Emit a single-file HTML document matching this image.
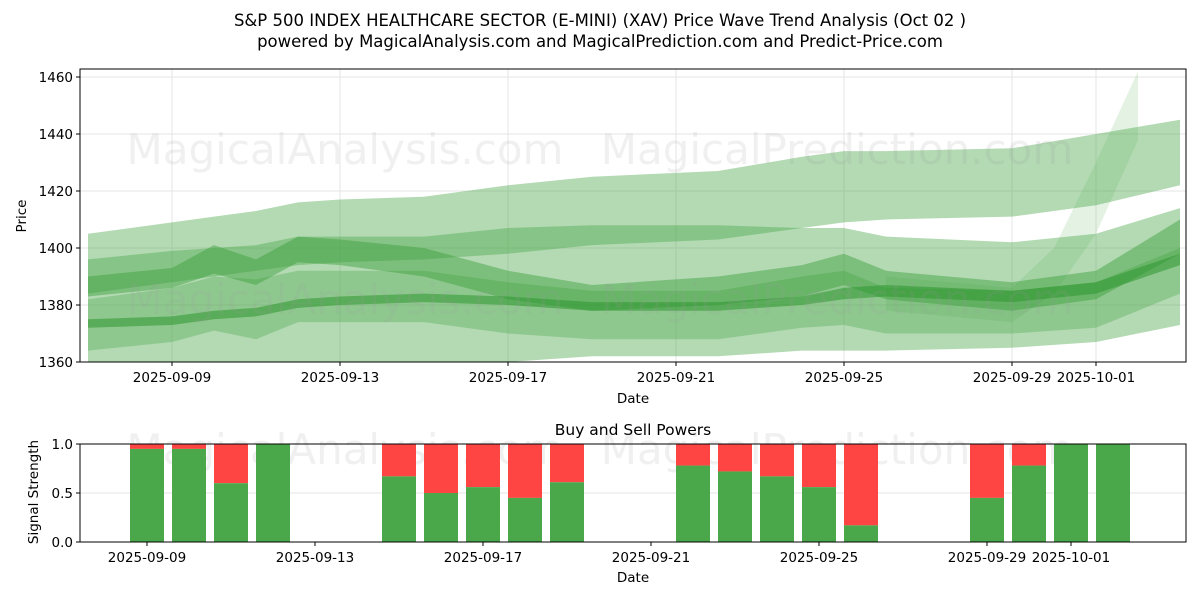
<!DOCTYPE html>
<html><head><meta charset="utf-8"><style>
body{margin:0;background:#fff;font-family:"Liberation Sans","DejaVu Sans",sans-serif;}
svg text{font-family:"DejaVu Sans","Liberation Sans",sans-serif;}
</style></head><body>
<svg id="c" width="1200" height="600" viewBox="0 0 1200 600" xmlns="http://www.w3.org/2000/svg">
<defs><clipPath id="clipTop"><rect x="80" y="69" width="1106" height="293"/></clipPath></defs>
<text x="600" y="26" text-anchor="middle" font-size="16.5">S&amp;P 500 INDEX HEALTHCARE SECTOR (E-MINI) (XAV) Price Wave Trend Analysis (Oct 02 )</text>
<text x="600" y="47" text-anchor="middle" font-size="16.5">powered by MagicalAnalysis.com and MagicalPrediction.com and Predict-Price.com</text>
<g id="topPanel"></g>
<g id="botPanel"></g>
</svg>
<script>
const bandDays=[-2,0,1,2,3,4,6,8,10,13,15,16,17,20,22,24];
const band1Upper=[1405,1409,1411,1413,1416,1417,1418,1422,1425,1427,1432,1434,1434,1435,1440,1445];
const band1Lower=[1384,1388,1390,1392,1394,1395,1396,1398,1401,1403,1407,1409,1410,1411,1415,1422];
const band2Upper=[1396,1399,1400,1401,1404,1404,1404,1407,1408,1408,1407,1407,1404,1402,1405,1414];
const band2Lower=[1360,1358,1358,1358,1358,1358,1358,1360,1362,1362,1364,1364,1364,1365,1367,1373];
const band3Upper=[1390,1393,1401,1396,1404,1403,1400,1392,1387,1390,1394,1398,1392,1388,1392,1410];
const band3Lower=[1383,1386,1391,1387,1395,1394,1390,1382,1378,1380,1383,1387,1382,1378,1382,1398];
const band4Upper=[1382,1386,1390,1389,1392,1392,1392,1388,1385,1385,1390,1392,1386,1385,1388,1400];
const band4Lower=[1364,1367,1371,1368,1374,1374,1374,1370,1368,1368,1372,1373,1370,1370,1372,1384];
const band5Upper=[1375,1376,1378,1379,1382,1383,1384,1383,1381,1381,1383,1386,1387,1385,1388,1398];
const band5Lower=[1372,1373,1375,1376,1379,1380,1381,1380,1378,1378,1380,1382,1383,1381,1384,1394];
const spikeDays=[17,20,21,22,23];
const spikeUpper=[1390,1386,1400,1430,1462];
const spikeLower=[1378,1374,1384,1405,1438];
const priceTicks=[1360,1380,1400,1420,1440,1460];
const dateTickDays=[0,4,8,12,16,20,22];
const dateTickLabels=["2025-09-09","2025-09-13","2025-09-17","2025-09-21","2025-09-25","2025-09-29","2025-10-01"];
const signalDays=[0,1,2,3,6,7,8,9,10,13,14,15,16,17,20,21,22,23];
const buyPower=[0.95,0.95,0.6,1.0,0.67,0.5,0.56,0.45,0.61,0.78,0.72,0.67,0.56,0.17,0.45,0.78,1.0,1.0];
const signalTicks=[0,0.5,1.0];

const NS="http://www.w3.org/2000/svg";
function mk(p,t,a){const e=document.createElementNS(NS,t);for(const k in a)e.setAttribute(k,a[k]);p.appendChild(e);return e;}
const topG=document.getElementById('topPanel'),botG=document.getElementById('botPanel');
const L=80,R=1186,T=69,B=362;
const FS=13.5;
const xT=d=>172+42*d, yT=v=>362-(v-1360)*2.85;
const xB=d=>147+42*d, bT=444,bB=542, yB=v=>bB-v*(bB-bT);
priceTicks.forEach(v=>{const l=mk(topG,'line',{x1:L,x2:R,y1:yT(v),y2:yT(v),stroke:'#e6e6e6'});

});
dateTickDays.forEach(d=>{const l=mk(topG,'line',{x1:xT(d),x2:xT(d),y1:T,y2:B,stroke:'#e6e6e6'});

});
const bandG=mk(topG,'g',{'clip-path':'url(#clipTop)'});


function band(days,u,lo,fill,op,name){
 let pts=days.map((d,i)=>xT(d)+','+yT(u[i]));
 for(let i=days.length-1;i>=0;i--)pts.push(xT(days[i])+','+yT(lo[i]));
 const p=mk(bandG,'polygon',{points:pts.join(' '),fill:fill,'fill-opacity':op});
 
 
}
band(bandDays,band1Upper,band1Lower,'#4aa84a',0.42,'wave-band-upper');
band(bandDays,band2Upper,band2Lower,'#4aa84a',0.42,'wave-band-wide');
band(spikeDays,spikeUpper,spikeLower,'#4aa84a',0.15,'wave-band-spike');
band(bandDays,band4Upper,band4Lower,'#3a9e3a',0.3,'wave-band-lower');
band(bandDays,band3Upper,band3Lower,'#3a9e3a',0.45,'wave-band-mid');
band(bandDays,band5Upper,band5Lower,'#2e962e',0.55,'wave-band-center');
[[345,150,'MagicalAnalysis.com'],[837,150,'MagicalPrediction.com'],[345,300,'MagicalAnalysis.com'],[837,300,'MagicalPrediction.com']].forEach(w=>{
 const t=mk(topG,'text',{x:w[0],y:w[1]+14,'text-anchor':'middle','font-size':42,fill:'#999','fill-opacity':0.15});t.textContent=w[2];
 
 });
const fr=mk(topG,'rect',{x:L,y:T,width:R-L,height:B-T,fill:'none',stroke:'#000'});


priceTicks.forEach(v=>{mk(topG,'line',{x1:L-4,x2:L,y1:yT(v),y2:yT(v),stroke:'#000'});
 const t=mk(topG,'text',{x:L-7,y:yT(v)+5,'text-anchor':'end','font-size':FS});t.textContent=v;
 
 });
dateTickDays.forEach((d,i)=>{mk(topG,'line',{x1:xT(d),x2:xT(d),y1:B,y2:B+4,stroke:'#000'});
 const t=mk(topG,'text',{x:xT(d),y:B+20,'text-anchor':'middle','font-size':FS});t.textContent=dateTickLabels[i];
 
 });
let tx=mk(topG,'text',{x:633,y:403,'text-anchor':'middle','font-size':FS});tx.textContent='Date';


tx=mk(topG,'text',{x:26,y:216,'text-anchor':'middle','font-size':FS,transform:'rotate(-90 26 216)'});tx.textContent='Price';


tx=mk(botG,'text',{x:633,y:435,'text-anchor':'middle','font-size':15.5});tx.textContent='Buy and Sell Powers';


const g5=mk(botG,'line',{x1:L,x2:R,y1:yB(0.5),y2:yB(0.5),stroke:'#e6e6e6'});


[[345,450,'MagicalAnalysis.com'],[837,450,'MagicalPrediction.com']].forEach(w=>{
 const q=mk(botG,'text',{x:w[0],y:w[1]+14,'text-anchor':'middle','font-size':42,fill:'#999','fill-opacity':0.15});q.textContent=w[2];
 
 });
signalDays.forEach((d,i)=>{
 const x=xB(d)-17;
 const s=mk(botG,'rect',{x:x,y:bT,width:34,height:yB(buyPower[i])-bT,fill:'#ff4444'});
 
 
 const b=mk(botG,'rect',{x:x,y:yB(buyPower[i]),width:34,height:bB-yB(buyPower[i]),fill:'#4aa84a'});
 
 
});
const fr2=mk(botG,'rect',{x:L,y:bT,width:R-L,height:bB-bT,fill:'none',stroke:'#000'});


signalTicks.forEach(v=>{mk(botG,'line',{x1:L-4,x2:L,y1:yB(v),y2:yB(v),stroke:'#000'});
 const q=mk(botG,'text',{x:L-7,y:yB(v)+5,'text-anchor':'end','font-size':FS});q.textContent=v.toFixed(1);
 
 });
dateTickDays.forEach((d,i)=>{mk(botG,'line',{x1:xB(d),x2:xB(d),y1:bB,y2:bB+4,stroke:'#000'});
 const q=mk(botG,'text',{x:xB(d),y:bB+20,'text-anchor':'middle','font-size':FS});q.textContent=dateTickLabels[i];
 
 });
tx=mk(botG,'text',{x:633,y:582,'text-anchor':'middle','font-size':FS});tx.textContent='Date';


tx=mk(botG,'text',{x:38,y:492,'text-anchor':'middle','font-size':FS,transform:'rotate(-90 38 492)'});tx.textContent='Signal Strength';


</script>
</body></html>
